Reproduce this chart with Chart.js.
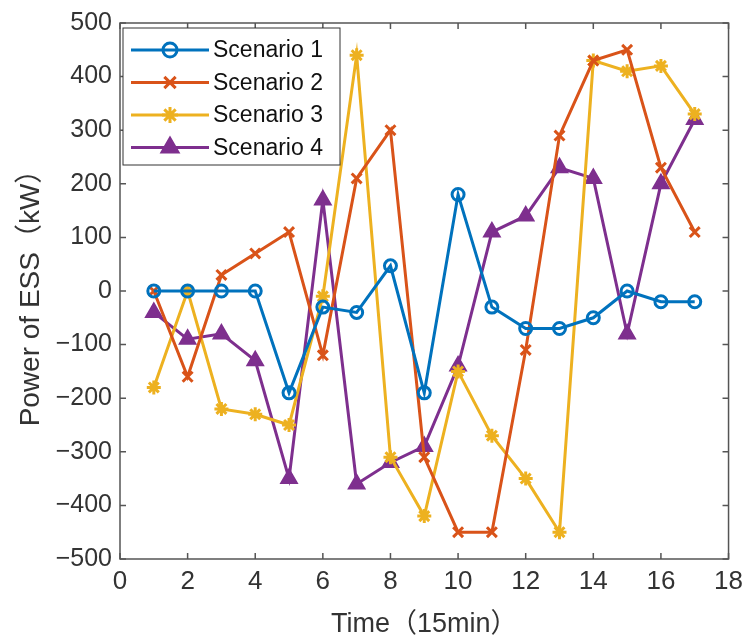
<!DOCTYPE html>
<html>
<head>
<meta charset="utf-8">
<script src="https://cdn.jsdelivr.net/npm/chart.js@4"></script>
<style>
  body { margin: 0; background: #fff; }
  #wrap { width: 750px; height: 639px; }
</style>
</head>
<body>
<div id="wrap"><canvas id="essChart"></canvas></div>
<script>
const times = [1, 2, 3, 4, 5, 6, 7, 8, 9, 10, 11, 12, 13, 14, 15, 16, 17];
const scenario1 = [0, 0, 0, 0, -190, -30, -40, 47, -190, 180, -30, -70, -70, -50, 0, -20, -20];
const scenario2 = [0, -160, 30, 70, 110, -120, 210, 300, -310, -450, -450, -110, 290, 430, 450, 230, 110];
const scenario3 = [-180, 0, -220, -230, -250, -10, 440, -310, -420, -150, -270, -350, -450, 430, 410, 420, 330];
const scenario4 = [-40, -90, -80, -130, -350, 170, -360, -320, -290, -140, 110, 140, 230, 210, -80, 200, 320];
const seriesNames = ["Scenario 1", "Scenario 2", "Scenario 3", "Scenario 4"];
const xTicks = [0, 2, 4, 6, 8, 10, 12, 14, 16, 18];
const yTicks = [-500, -400, -300, -200, -100, 0, 100, 200, 300, 400, 500];

const FONT = "'Liberation Sans', Arial, 'Noto Sans CJK SC', sans-serif";
const toPts = vals => vals.map((v, i) => ({ x: times[i], y: v }));

function mkSet(label, vals, color, style, radius, fill) {
  return {
    label: label,
    data: toPts(vals),
    borderColor: color,
    backgroundColor: fill,
    pointStyle: style,
    pointRadius: radius,
    pointBorderColor: color,
    pointBackgroundColor: fill,
    pointBorderWidth: 3,
    borderWidth: 3,
    tension: 0
  };
}

// inward ticks on all four sides + box frame + legend inside plot
const framePlugin = {
  id: "frame",
  afterDraw(chart) {
    const { ctx, chartArea: a, scales: { x, y } } = chart;
    ctx.save();
    ctx.strokeStyle = "#555";
    ctx.lineWidth = 1.5;
    ctx.strokeRect(a.left, a.top, a.right - a.left, a.bottom - a.top);
    ctx.beginPath();
    xTicks.forEach(t => {
      const px = x.getPixelForValue(t);
      ctx.moveTo(px, a.bottom); ctx.lineTo(px, a.bottom - 6);
      ctx.moveTo(px, a.top); ctx.lineTo(px, a.top + 6);
    });
    yTicks.forEach(t => {
      const py = y.getPixelForValue(t);
      ctx.moveTo(a.left, py); ctx.lineTo(a.left + 6, py);
      ctx.moveTo(a.right, py); ctx.lineTo(a.right - 6, py);
    });
    ctx.stroke();

    // legend
    const lx = a.left + 3, ly = a.top + 5, lw = 217, lh = 137;
    ctx.fillStyle = "#fff";
    ctx.fillRect(lx, ly, lw, lh);
    ctx.strokeStyle = "#333";
    ctx.lineWidth = 1;
    ctx.strokeRect(lx, ly, lw, lh);
    ctx.font = "23px " + FONT;
    ctx.textBaseline = "middle";
    chart.data.datasets.forEach((ds, i) => {
      const rowY = ly + 22 + i * 32.5;
      ctx.strokeStyle = ds.borderColor;
      ctx.lineWidth = 3;
      ctx.beginPath();
      ctx.moveTo(lx + 8, rowY); ctx.lineTo(lx + 86, rowY);
      ctx.stroke();
      ctx.fillStyle = ds.pointBackgroundColor;
      ctx.strokeStyle = ds.borderColor;
      Chart.helpers.drawPoint(ctx, {
        pointStyle: ds.pointStyle, radius: ds.pointRadius + 1, rotation: 0, borderWidth: 3
      }, lx + 47, rowY);
      ctx.fillStyle = "#111";
      ctx.fillText(ds.label, lx + 90, rowY + 1);
    });
    ctx.restore();
  }
};

new Chart(document.getElementById("essChart"), {
  type: "line",
  data: {
    datasets: [
      mkSet(seriesNames[0], scenario1, "#0072BD", "circle", 6, "rgba(0,0,0,0)"),
      mkSet(seriesNames[1], scenario2, "#D95319", "crossRot", 7, "#D95319"),
      mkSet(seriesNames[2], scenario3, "#EDB120", "star", 7, "#EDB120"),
      mkSet(seriesNames[3], scenario4, "#7E2F8E", "triangle", 8, "#7E2F8E")
    ]
  },
  options: {
    responsive: true,
    maintainAspectRatio: false,
    animation: false,
    layout: { padding: { top: 19, right: 12, left: 0, bottom: 0 } },
    plugins: { legend: { display: false }, tooltip: { enabled: false } },
    scales: {
      x: {
        type: "linear",
        min: 0, max: 18,
        afterBuildTicks: s => { s.ticks = xTicks.map(v => ({ value: v })); },
        afterFit: s => { s.height = 80; },
        grid: { display: false, drawTicks: false },
        border: { display: false },
        ticks: { color: "#333", font: { family: FONT, size: 26 }, padding: 7, maxRotation: 0 },
        title: { display: true, text: "Time（15min）", color: "#333", font: { family: FONT, size: 27 }, padding: { top: 0, bottom: -2 } }
      },
      y: {
        min: -500, max: 500,
        afterBuildTicks: s => { s.ticks = yTicks.map(v => ({ value: v })); },
        afterFit: s => { s.width = 120; },
        grid: { display: false, drawTicks: false },
        border: { display: false },
        ticks: { color: "#333", font: { family: FONT, size: 25 }, padding: 8,
          callback: v => (v < 0 ? "\u2212" + Math.abs(v) : String(v)) },
        title: { display: true, text: "Power of ESS（kW）", color: "#333", font: { family: FONT, size: 28 }, padding: { top: 14, bottom: 0 } }
      }
    }
  },
  plugins: [framePlugin]
});
</script>
</body>
</html>
